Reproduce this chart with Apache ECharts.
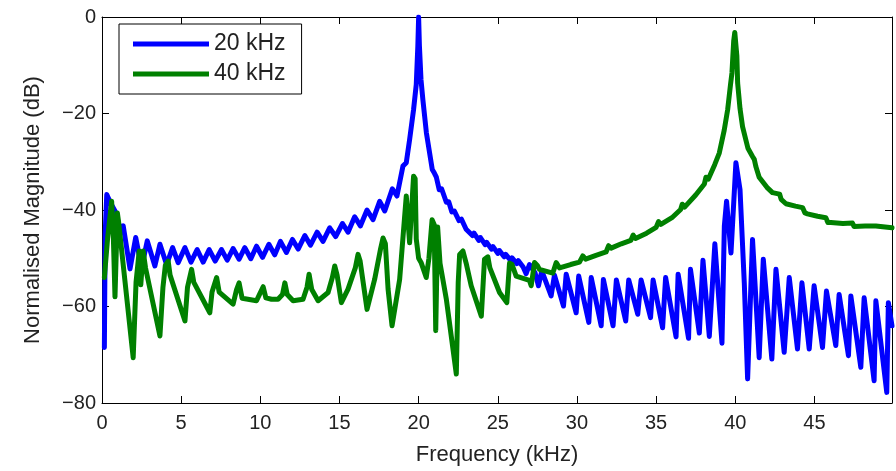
<!DOCTYPE html>
<html>
<head>
<meta charset="utf-8">
<script src="https://cdn.jsdelivr.net/npm/echarts@6/dist/echarts.min.js"></script>
<style>html,body{margin:0;padding:0;background:#fff}#c{width:896px;height:471px}</style>
</head>
<body>
<div id="c"></div>
<script>
// Tick values
var xTicks = [0, 5, 10, 15, 20, 25, 30, 35, 40, 45];
var yTicks = [-80, -60, -40, -20, 0];
var seriesNames = ['20 kHz', '40 kHz'];

// 20 kHz trace: [frequency kHz, magnitude dB]
var blue20 = [
[0.15,-68.5],[0.2,-45],[0.3,-36.8],[0.55,-38.6],[0.82,-40.2],[1.05,-42.8],[1.2,-44.5],[1.34,-43.3],[1.77,-52.2],
[2.13,-45.7],[2.50,-51.9],[2.86,-46.4],[3.34,-51.6],[3.66,-47.1],[4.08,-51.3],[4.46,-47.8],[4.81,-50.9],
[5.24,-47.8],[5.62,-50.8],[6.01,-48.2],[6.39,-50.8],[6.77,-48.2],[7.15,-50.6],[7.55,-48.2],[7.91,-50.4],
[8.28,-48.0],[8.66,-50.2],[9.02,-47.8],[9.40,-50.1],[9.76,-47.5],[10.14,-49.8],[10.54,-47.1],[10.91,-49.3],
[11.27,-46.5],[11.65,-48.8],[12.03,-46.1],[12.39,-48.1],[12.81,-45.3],[13.17,-47.3],[13.59,-44.6],[13.96,-46.5],
[14.38,-43.7],[14.76,-45.5],[15.19,-42.8],[15.54,-44.6],[15.96,-41.4],[16.32,-43.3],[16.74,-40.0],[17.12,-42.0],
[17.54,-38.2],[17.86,-40.2],[18.34,-35.6],[18.63,-37.1],[19.01,-30.9],[19.22,-30.2],[19.43,-25.4],[19.68,-19.2],
[19.85,-14],[19.95,-6],[20.0,0],[20.05,-6],[20.15,-13],[20.27,-17.2],[20.49,-24.0],[20.86,-31.6],[21.0,-32.4],
[21.12,-33.2],[21.3,-35.8],[21.45,-35.6],[21.75,-38.4],[21.9,-38.3],[22.1,-40.4],[22.25,-40.2],[22.55,-42.2],
[22.7,-41.9],[23.0,-44.0],[23.1,-43.6],[23.4,-45.3],[23.5,-44.8],[23.8,-46.3],[23.9,-45.7],[24.2,-47.2],
[24.3,-46.7],[24.6,-48.1],[24.7,-47.6],[25.0,-49.0],[25.1,-48.4],[25.4,-49.7],[25.5,-49.2],[25.8,-50.4],
[25.9,-49.9],[26.2,-51.1],[26.3,-50.5],[26.6,-51.8],[26.79,-53.2],[27.0,-51.3],[27.35,-53.0],[27.57,-55.7],
[27.78,-52.6],[28.37,-57.8],[28.58,-53.5],[29.15,-59.9],[29.32,-53.3],[29.95,-61.3],[30.11,-53.7],[30.75,-63.3],
[30.90,-54.0],[31.53,-64.0],[31.67,-54.4],[32.28,-64.0],[32.49,-54.5],[33.08,-63.0],[33.27,-54.5],[33.84,-61.6],
[34.05,-54.5],[34.65,-62.3],[34.81,-54.5],[35.41,-64.4],[35.6,-54.0],[36.26,-66.3],[36.39,-53.3],[37.05,-66.6],
[37.17,-52.3],[37.73,-65.5],[37.96,-50.4],[38.36,-66.2],[38.71,-47.0],[39.16,-67.6],[39.31,-43.3],[39.45,-38.2],
[39.73,-48.9],[40.04,-30.2],[40.30,-35.8],[40.57,-55.1],[40.78,-75.0],[41.09,-46.1],[41.51,-70.6],[41.77,-50.2],
[42.31,-70.9],[42.57,-52.3],[43.09,-69.5],[43.41,-54.0],[43.93,-68.8],[44.21,-55.1],[44.67,-68.8],[44.98,-55.7],
[45.51,-68.5],[45.76,-56.8],[46.35,-68.1],[46.56,-57.5],[47.15,-70.2],[47.30,-57.8],[47.93,-72.6],[48.14,-58.2],
[48.77,-75.4],[48.88,-58.8],[49.57,-77.8],[49.67,-59.2],[49.9,-64]
];

// 40 kHz trace: [frequency kHz, magnitude dB]
var green40 = [
[0.15,-54.0],[0.35,-46],[0.61,-38.2],[0.72,-46],[0.82,-58.0],[0.97,-40.6],[1.05,-42.5],[1.97,-70.6],[2.15,-55],
[2.35,-48.5],[2.45,-55.5],[2.6,-48.5],[2.75,-52],[3.66,-66.1],[3.85,-56],[4.0,-51.5],[4.18,-50.6],[4.3,-53.5],
[5.24,-63.0],[5.4,-56],[5.66,-52.3],[5.8,-55],[6.81,-61.3],[6.95,-57],[7.24,-54.0],[7.4,-57],[8.28,-59.5],
[8.5,-56.5],[8.66,-55.1],[8.85,-58.3],[9.76,-58.8],[9.95,-57.5],[10.18,-55.9],[10.35,-58.2],[10.71,-58.5],
[11.12,-58.5],[11.4,-57.5],[11.55,-55.1],[11.7,-57.5],[12.07,-58.8],[12.70,-58.5],[12.95,-56],[13.08,-53.3],
[13.25,-56.5],[13.65,-58.8],[14.28,-57.1],[14.55,-54],[14.70,-51.6],[14.85,-53.5],[15.12,-59.2],[15.54,-56.4],
[16.0,-52],[16.17,-49.2],[16.3,-50.5],[16.74,-60.6],[17.22,-54.4],[17.6,-48],[17.75,-45.8],[17.9,-47],
[18.07,-56.4],[18.32,-64.0],[18.80,-54.4],[19.1,-42],[19.22,-37.1],[19.43,-46.8],[19.68,-33.0],[19.78,-33.5],
[19.85,-46],[20.0,-50],[20.17,-51],[20.48,-54.0],[20.65,-50],[20.85,-42.0],[20.98,-43],[21.08,-65.0],
[21.2,-43.5],[21.35,-51],[21.75,-58.5],[22.38,-74.0],[22.5,-55],[22.59,-49.2],[22.80,-48.5],[23.0,-51],
[23.32,-55.7],[23.96,-62.0],[24.16,-50.2],[24.37,-49.7],[24.5,-52],[25.11,-57.1],[25.57,-59.2],[25.74,-51.0],
[25.9,-51.3],[26.16,-53.7],[27.0,-54.6],[27.11,-55.7],[27.32,-50.9],[27.5,-51.5],[27.63,-52.3],[28.47,-53.1],
[28.69,-50.9],[28.9,-52.0],[29.6,-51.3],[30.16,-50.8],[30.37,-49.5],[30.55,-50.2],[31.2,-49.4],[31.84,-48.7],
[32.0,-47.4],[32.16,-47.9],[32.8,-47.0],[33.4,-46.3],[33.55,-45.2],[33.7,-45.9],[34.4,-44.8],[35.0,-43.6],
[35.15,-42.4],[35.3,-43.0],[36.0,-41.6],[36.55,-39.9],[36.65,-38.8],[36.8,-39.4],[37.5,-36.9],[38.05,-34.6],
[38.15,-33.2],[38.3,-33.6],[38.7,-30.6],[38.99,-28.2],[39.3,-23.5],[39.52,-19.2],[39.7,-14],[39.79,-11.6],
[39.9,-5],[39.97,-3.2],[40.03,-3.2],[40.1,-8],[40.15,-13.7],[40.3,-19],[40.46,-22.7],[40.8,-27.2],[41.09,-28.9],
[41.2,-29.5],[41.3,-31.0],[41.51,-33.2],[42.0,-35.3],[42.35,-36.4],[42.8,-36.7],[42.9,-37.8],[43.2,-38.7],
[43.8,-39.2],[44.25,-39.5],[44.4,-40.6],[44.56,-40.8],[45.2,-41.3],[45.72,-41.6],[45.85,-42.6],[46.04,-42.6],
[46.8,-42.8],[47.4,-42.7],[47.5,-43.4],[48.2,-43.3],[48.88,-43.3],[49.9,-43.7]
];

var FONT = 'Liberation Sans, Arial, Helvetica, sans-serif';
var chart = echarts.init(document.getElementById('c'), null, {renderer: 'canvas'});

function xFmt(v) { return xTicks.indexOf(Math.round(v * 1000) / 1000) >= 0 ? String(v) : ''; }
function yFmt(v) { return yTicks.indexOf(v) >= 0 ? (v < 0 ? '\u2212' + (-v) : String(v)) : ''; }

var axisLineStyle = {color: '#000', width: 1};
var tickStyle = {show: true, inside: true, length: 7, lineStyle: {color: '#000', width: 1}};

chart.setOption({
  animation: false,
  backgroundColor: '#fff',
  grid: {left: 102, right: 4, top: 17, bottom: 67, containLabel: false},
  legend: {
    data: seriesNames,
    orient: 'vertical',
    left: 119, top: 24,
    itemWidth: 76, itemHeight: 5, itemGap: 6,
    icon: 'rect',
    padding: [8, 16, 8, 14],
    borderColor: '#000', borderWidth: 1, borderRadius: 0,
    backgroundColor: '#fff',
    textStyle: {fontSize: 23, color: '#222', fontFamily: FONT, lineHeight: 24}
  },
  xAxis: [{
    type: 'value', min: 0, max: 49.9, interval: 5, position: 'bottom',
    axisLine: {show: true, onZero: false, lineStyle: axisLineStyle},
    axisTick: tickStyle,
    splitLine: {show: false},
    axisLabel: {color: '#222', fontSize: 20, fontFamily: FONT, margin: 10, formatter: xFmt},
    name: 'Frequency (kHz)', nameLocation: 'middle', nameGap: 41,
    nameTextStyle: {fontSize: 22, color: '#222', fontFamily: FONT}
  }, {
    type: 'value', min: 0, max: 49.9, interval: 5, position: 'top',
    axisLine: {show: true, onZero: false, lineStyle: axisLineStyle},
    axisTick: tickStyle, axisLabel: {show: false}, splitLine: {show: false}
  }],
  yAxis: [{
    type: 'value', min: -80, max: 0, interval: 20, position: 'left',
    axisLine: {show: true, onZero: false, lineStyle: axisLineStyle},
    axisTick: tickStyle,
    splitLine: {show: false},
    axisLabel: {color: '#222', fontSize: 20, fontFamily: FONT, margin: 6, formatter: yFmt},
    name: 'Normalised Magnitude (dB)', nameLocation: 'middle', nameGap: 58, nameRotate: 90,
    nameTextStyle: {fontSize: 22, color: '#222', fontFamily: FONT}
  }, {
    type: 'value', min: -80, max: 0, interval: 20, position: 'right',
    axisLine: {show: true, onZero: false, lineStyle: axisLineStyle},
    axisTick: tickStyle, axisLabel: {show: false}, splitLine: {show: false}
  }],
  series: [{
    name: seriesNames[0], type: 'line', data: blue20, showSymbol: false, symbol: 'none',
    xAxisIndex: 0, yAxisIndex: 0,
    color: '#0000ff',
    lineStyle: {color: '#0000ff', width: 5, join: 'round', cap: 'round'}
  }, {
    name: seriesNames[1], type: 'line', data: green40, showSymbol: false, symbol: 'none',
    xAxisIndex: 0, yAxisIndex: 0,
    color: '#008000',
    lineStyle: {color: '#008000', width: 5, join: 'round', cap: 'round'}
  }]
});
</script>
</body>
</html>
